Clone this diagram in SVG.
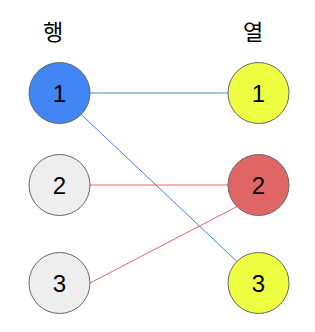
<svg xmlns="http://www.w3.org/2000/svg" width="315" height="332" viewBox="0 0 315 332">
<style>
.n{stroke:#666666;stroke-width:1}
.t{font-family:"Liberation Sans",Arial,sans-serif;font-size:24px;text-anchor:middle;fill:#000}
.h{font-family:"Noto Sans CJK KR","Noto Sans CJK SC",sans-serif;font-size:22px;text-anchor:middle;fill:#000}
.b{stroke:#4285f4;stroke-width:1;fill:none}
.r{stroke:#e06666;stroke-width:1;fill:none}
</style>
<rect width="315" height="332" fill="#ffffff"/>
<text class="h" x="53" y="40">행</text>
<text class="h" x="253" y="40">열</text>
<g id="connectors">
<line class="b" x1="90" y1="93" x2="228" y2="93"/>
<line class="b" x1="81.3" y1="114.6" x2="236.9" y2="261.4"/>
<line class="r" x1="90" y1="185" x2="228" y2="185"/>
<line class="r" x1="90" y1="283" x2="236.9" y2="206.6"/>
</g>
<g id="row1"><circle class="n" cx="59.5" cy="93" r="30.5" fill="#4285f4"/><text class="t" x="59.5" y="101.5">1</text></g>
<g id="row2"><circle class="n" cx="59.5" cy="185" r="30.5" fill="#eeeeee"/><text class="t" x="59.5" y="193.5">2</text></g>
<g id="row3"><circle class="n" cx="59.5" cy="283" r="30.5" fill="#eeeeee"/><text class="t" x="59.5" y="291.5">3</text></g>
<g id="col1"><circle class="n" cx="258.5" cy="93" r="30.5" fill="#eeff41"/><text class="t" x="258.5" y="101.5">1</text></g>
<g id="col2"><circle class="n" cx="258.5" cy="185" r="30.5" fill="#e06666"/><text class="t" x="258.5" y="193.5">2</text></g>
<g id="col3"><circle class="n" cx="258.5" cy="283" r="30.5" fill="#eeff41"/><text class="t" x="258.5" y="291.5">3</text></g>
</svg>
